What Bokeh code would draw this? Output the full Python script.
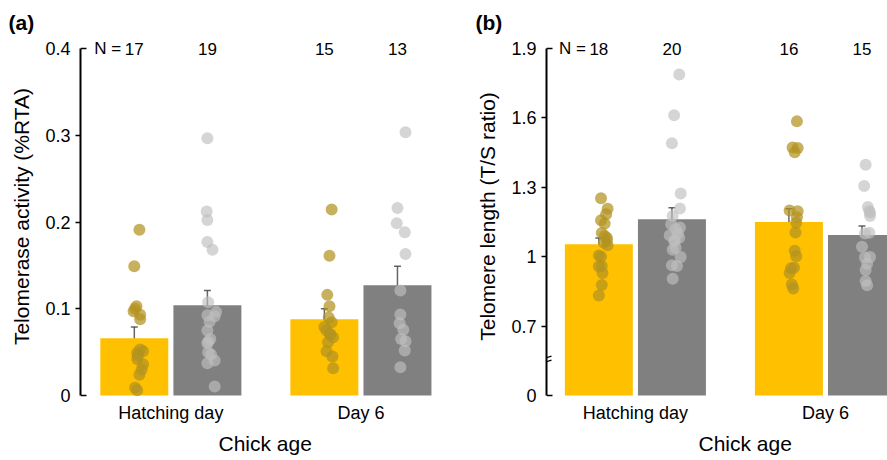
from bokeh.plotting import figure
from bokeh.layouts import row
from bokeh.models import (ColumnDataSource, FixedTicker, Whisker, TeeHead, LabelSet,
                          Label, Range1d, Arrow, Title)
from bokeh.core.properties import value
from bokeh.embed import file_html
from bokeh.resources import INLINE

FONT = "Liberation Sans"
ages = ["Hatching day", "Day 6"]

# ---------------- Panel (a): telomerase activity (%RTA) ----------------
a_yellow_hatch = [0.191, 0.149, 0.103, 0.100, 0.097, 0.093, 0.088, 0.053, 0.051,
                  0.049, 0.046, 0.042, 0.036, 0.030, 0.024, 0.009, 0.006]
a_yellow_hatch_jit = [0.07, 0, 0.03, 0.01, -0.01, 0.08, 0.08, 0.08, 0.12, 0.04,
                      0.05, 0.04, 0.12, 0.10, 0.07, 0.01, 0.04]
a_gray_hatch = [0.2965, 0.212, 0.2024, 0.177, 0.168, 0.1075, 0.0964, 0.0925, 0.0914,
                0.0849, 0.0749, 0.065, 0.062, 0.0603, 0.0499, 0.0472, 0.0403, 0.0372, 0.0104]
a_gray_hatch_jit = [0, -0.01, 0, 0, 0.07, 0.01, 0.12, 0, 0.10, 0.03, 0, 0.04, 0.01,
                    0, 0.01, 0.05, 0.10, 0, 0.10]
a_yellow_d6 = [0.2145, 0.161, 0.116, 0.103, 0.090, 0.0845, 0.079, 0.075, 0.071,
               0.070, 0.067, 0.0615, 0.051, 0.045, 0.0315]
a_yellow_d6_jit = [0.10, 0.07, 0.04, 0.07, 0.06, 0.10, 0, 0.03, 0.08, 0.08, 0.12,
                   0.05, 0.03, 0.11, 0.12]
a_gray_d6 = [0.3034, 0.2162, 0.1985, 0.1882, 0.1632, 0.121, 0.0933, 0.0833, 0.0757,
             0.065, 0.0626, 0.0518, 0.0326]
a_gray_d6_jit = [0.11, 0, -0.01, 0.10, 0.11, 0.04, 0.04, 0.03, 0.08, 0.05, 0.11, 0.10, 0.04]
a_yellow_mean = [0.066, 0.088]
a_yellow_se = [0.013, 0.012]
a_gray_mean = [0.104, 0.127]
a_gray_se = [0.017, 0.022]
a_n = [17, 19, 15, 13]
a_ticks = [0, 0.1, 0.2, 0.3, 0.4]
a_tick_labels = ["0", "0.1", "0.2", "0.3", "0.4"]

# ---------------- Panel (b): telomere length (T/S ratio) ----------------
b_yellow_hatch = [1.253, 1.207, 1.184, 1.158, 1.143, 1.102, 1.09, 1.082, 1.070, 1.06,
                  1.050, 1.005, 1.0, 0.96, 0.958, 0.930, 0.878, 0.832]
b_yellow_hatch_jit = [0.03, 0.12, 0.10, 0.03, 0.08, 0.04, 0.08, 0.11, 0.11, 0.07,
                      0.12, 0, 0.03, 0.04, 0, 0.05, 0.04, 0]
b_gray_hatch = [1.788, 1.611, 1.490, 1.273, 1.208, 1.176, 1.140, 1.126, 1.12, 1.10,
                1.093, 1.082, 1.07, 1.068, 1.039, 1.03, 0.999, 0.963, 0.96, 0.905]
b_gray_hatch_jit = [0.10, 0.03, 0, 0.12, 0.11, 0.01, -0.01, 0.11, 0.05, 0.08, -0.03,
                    0.10, 0.04, 0.03, 0.05, 0.01, 0.12, 0, 0.07, 0.01]
b_yellow_d6 = [1.585, 1.472, 1.470, 1.451, 1.200, 1.196, 1.170, 1.147, 1.105, 1.026,
               1.002, 0.952, 0.95, 0.930, 0.880, 0.863]
b_yellow_d6_jit = [0.11, 0.05, 0.12, 0.08, 0.01, 0.12, 0.11, 0.10, 0.09, 0.08, 0.10,
                   0.07, 0.03, 0.01, 0.04, 0.06]
b_gray_d6 = [1.397, 1.306, 1.215, 1.198, 1.19, 1.176, 1.104, 1.10, 1.043, 0.999,
             0.997, 0.97, 0.942, 0.895, 0.877]
b_gray_d6_jit = [0.05, 0.03, 0.08, 0.10, 0.11, 0.11, 0.10, 0.04, 0, 0.11, 0.04, 0.07,
                 0.05, 0.05, 0.07]
b_yellow_mean = [1.054, 1.150]
b_yellow_se = [0.027, 0.057]
b_gray_mean = [1.162, 1.094]
b_gray_se = [0.050, 0.039]
b_n = [18, 20, 16, 15]
b_ticks = [0.4, 0.7, 1.0, 1.3, 1.6, 1.9]
b_tick_labels = ["0", "0.7", "1", "1.3", "1.6", "1.9"]
b_break = 0.555  # where the axis break mark sits

# ---------------- layout constants ----------------
GROUP = [0.0, 2.6]        # x-scale centres of the two age groups
HALF = 0.5
BAR_W = 0.93
PPU_X = 73.1              # pixels per x unit
FIG_H = 460
TOP = 35                  # frame top (px from figure top)
TOPPAD = 13               # px between frame top and top tick
AX_PX = 347               # px from bottom tick to top tick
PAD = 2                   # px between bottom tick and frame bottom

YELLOW = "#FFC000"
GRAY = "#808080"
YPT = "#B39320"
GPT = "#BEBEBE"


def make_panel(tag, ylabel, fig_w, left_border, x_start, ticks, tick_labels,
               series, means_y, se_y, means_g, se_g, counts, tag_off, xlabel_off, brk=None):
    lo, hi = ticks[0], ticks[-1]
    ppu_y = AX_PX / (hi - lo)
    frame_w = fig_w - left_border
    x_end = x_start + frame_w / PPU_X
    p = figure(width=fig_w, height=FIG_H,
               x_range=Range1d(x_start, x_end),
               y_range=Range1d(lo - PAD / ppu_y, hi + TOPPAD / ppu_y),
               output_backend="svg", toolbar_location=None,
               min_border_left=left_border, min_border_right=0,
               min_border_top=TOP, min_border_bottom=FIG_H - TOP - TOPPAD - AX_PX - PAD)
    p.outline_line_color = None
    p.grid.visible = False

    xy = [g - HALF for g in GROUP]
    xg = [g + HALF for g in GROUP]
    p.vbar(x=xy, top=means_y, bottom=lo, width=BAR_W, fill_color=YELLOW, line_color=None)
    p.vbar(x=xg, top=means_g, bottom=lo, width=BAR_W, fill_color=GRAY, line_color=None)

    # individual points
    centres = [xy[0], xg[0], xy[1], xg[1]]
    colors = [YPT, GPT, YPT, GPT]
    alphas = [0.72, 0.65, 0.72, 0.65]
    for (vals, jit), c, col, al in zip(series, centres, colors, alphas):
        src = ColumnDataSource(dict(x=[c + j for j in jit], y=vals))
        p.scatter("x", "y", source=src, size=12, fill_color=col, fill_alpha=al, line_color=None)

    # error bars
    esrc = ColumnDataSource(dict(
        x=centres,
        upper=[means_y[0] + se_y[0], means_g[0] + se_g[0], means_y[1] + se_y[1], means_g[1] + se_g[1]],
        lower=[means_y[0] - se_y[0], means_g[0] - se_g[0], means_y[1] - se_y[1], means_g[1] - se_g[1]]))
    ecol = "#404040"
    p.add_layout(Whisker(source=esrc, base="x", upper="upper", lower="lower", dimension="height",
                         line_color=ecol, line_alpha=0.8, line_width=1.5,
                         upper_head=TeeHead(size=7, line_color=ecol, line_alpha=0.8, line_width=1.5),
                         lower_head=TeeHead(size=7, line_color=ecol, line_alpha=0.8, line_width=1.5)))

    # y axis
    yax = p.yaxis[0]
    yax.ticker = FixedTicker(ticks=ticks, minor_ticks=ticks[1:-1])
    yax.major_label_overrides = dict(zip(ticks, tick_labels))
    yax.bounds = (lo, hi)
    yax.major_tick_in = 0
    yax.major_tick_out = 0
    yax.minor_tick_in = 0
    yax.minor_tick_out = 5
    yax.minor_tick_line_width = 1.3
    yax.minor_tick_line_color = "black"
    yax.axis_line_width = 2
    yax.axis_line_color = "black"
    yax.major_label_standoff = 5
    yax.major_label_text_font = FONT
    yax.major_label_text_font_size = "18px"
    yax.major_label_text_color = "black"
    yax.axis_label = ylabel
    yax.axis_label_text_font = FONT
    yax.axis_label_text_font_size = "21px"
    yax.axis_label_text_font_style = "normal"
    yax.axis_label_text_color = "black"
    yax.axis_label_standoff = 9

    # inward end ticks
    p.segment(x0=[x_start, x_start], y0=[lo, hi], x1=[x_start + 6 / PPU_X] * 2, y1=[lo, hi],
              line_color="black", line_width=1.3)

    # x axis
    xax = p.xaxis[0]
    xax.ticker = FixedTicker(ticks=GROUP)
    xax.major_label_overrides = dict(zip(GROUP, ages))
    xax.axis_line_color = None
    xax.major_tick_line_color = None
    xax.minor_tick_line_color = None
    xax.major_tick_in = 0
    xax.major_tick_out = 0
    xax.major_label_standoff = 5
    xax.major_label_text_font = FONT
    xax.major_label_text_font_size = "18px"
    xax.major_label_text_color = "black"

    # x axis title (as a below title so it can be shifted)
    p.add_layout(Title(text="Chick age", align="left", offset=xlabel_off, standoff=9,
                       text_font=FONT, text_font_size="21px", text_font_style="normal",
                       text_color="black"), "below")
    # panel tag
    p.add_layout(Title(text=tag, align="left", offset=tag_off, standoff=4,
                       text_font=FONT, text_font_size="21px", text_font_style="bold",
                       text_color="black"), "above")
    # sample sizes
    nsrc = ColumnDataSource(dict(x=centres, y=[hi] * 4, t=[str(n) for n in counts]))
    p.add_layout(LabelSet(source=nsrc, x="x", y="y", text="t", text_font=value(FONT),
                          text_font_size="17px", text_color="black",
                          text_align="center", text_baseline="middle"))
    p.add_layout(Label(x=centres[0], y=hi, x_offset=-13, text="N =", text_font=FONT,
                       text_font_size="17px", text_color="black",
                       text_align="right", text_baseline="middle"))
    # axis break mark
    if brk is not None:
        for dy in (-2.0, 2.0):
            p.add_layout(Arrow(end=None, x_start=x_start - 4 / PPU_X, y_start=brk + (dy - 1.5) / ppu_y,
                               x_end=x_start + 5 / PPU_X, y_end=brk + (dy + 1.5) / ppu_y,
                               line_color="black", line_width=1.2))
    return p


pa = make_panel("(a)", "Telomerase activity (%RTA)", 440, 80, -1.236, a_ticks, a_tick_labels,
                [(a_yellow_hatch, a_yellow_hatch_jit), (a_gray_hatch, a_gray_hatch_jit),
                 (a_yellow_d6, a_yellow_d6_jit), (a_gray_d6, a_gray_d6_jit)],
                a_yellow_mean, a_yellow_se, a_gray_mean, a_gray_se, a_n,
                tag_off=-72, xlabel_off=138)
pb = make_panel("(b)", "Telomere length (T/S ratio)", 447, 106, -1.216, b_ticks, b_tick_labels,
                [(b_yellow_hatch, b_yellow_hatch_jit), (b_gray_hatch, b_gray_hatch_jit),
                 (b_yellow_d6, b_yellow_d6_jit), (b_gray_d6, b_gray_d6_jit)],
                b_yellow_mean, b_yellow_se, b_gray_mean, b_gray_se, b_n,
                tag_off=-71, xlabel_off=152, brk=b_break)

layout = row(pa, pb)
open("out.html", "w").write(file_html(layout, INLINE))
